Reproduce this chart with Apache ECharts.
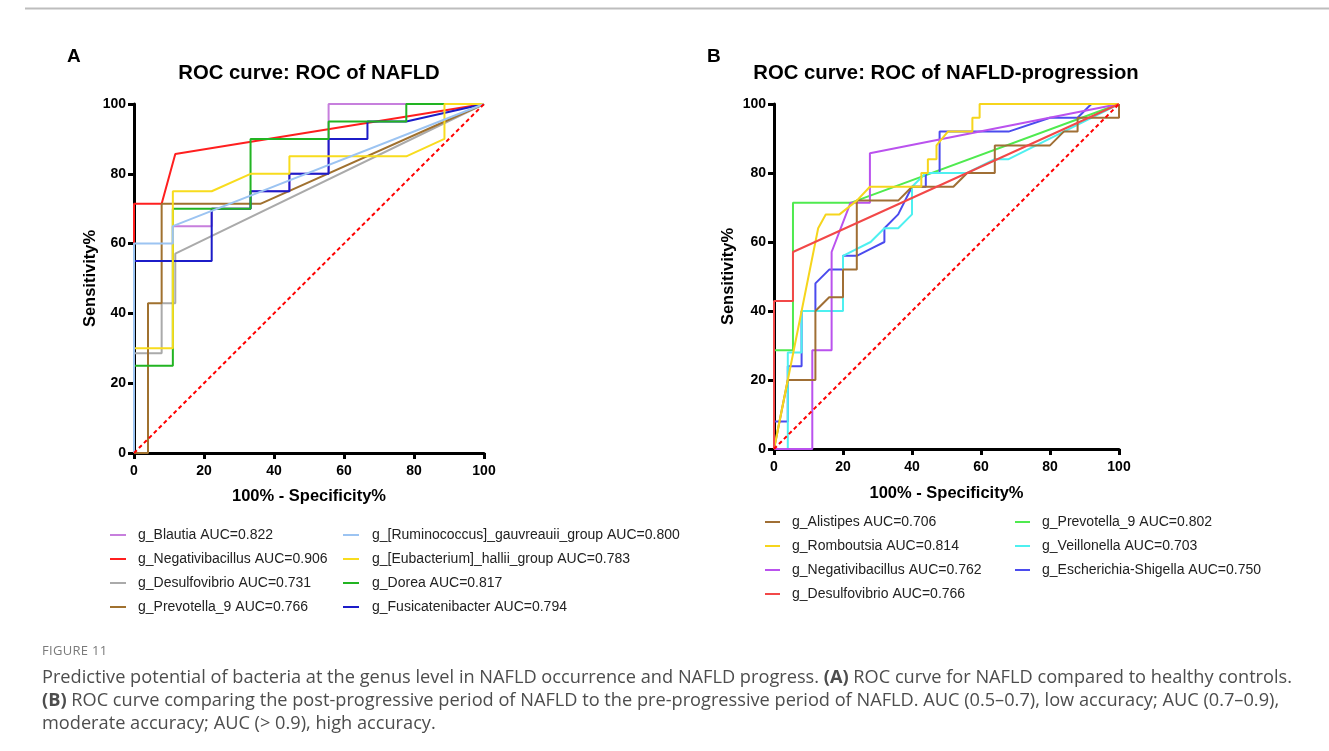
<!DOCTYPE html>
<html>
<head>
<meta charset="utf-8">
<script src="https://cdn.jsdelivr.net/npm/echarts@6/dist/echarts.min.js"></script>
<style>
  html, body { margin: 0; padding: 0; background: #fff; }
  #wrap { position: relative; width: 1329px; height: 751px; overflow: hidden; }
  #chart { position: absolute; left: 0; top: 0; width: 1329px; height: 751px; }
  .cap { position: absolute; left: 42px; font-family: 'Open Sans', 'Noto Sans', sans-serif; color: #4d4d4d; white-space: nowrap; }
  #figlabel { top: 641px; font-size: 13px; color: #7a7a7a; letter-spacing: 0.3px; }
</style>
</head>
<body>
<div id="wrap">
  <div id="chart"></div>
  <div class="cap" id="figlabel">FIGURE 11</div>
  <div class="cap capline" id="cap1" style="top:664px">Predictive potential of bacteria at the genus level in NAFLD occurrence and NAFLD progress. <b>(A)</b> ROC curve for NAFLD compared to healthy controls.</div>
  <div class="cap capline" id="cap2" style="top:687px"><b>(B)</b> ROC curve comparing the post-progressive period of NAFLD to the pre-progressive period of NAFLD. AUC (0.5–0.7), low accuracy; AUC (0.7–0.9),</div>
  <div class="cap capline" id="cap3" style="top:710px">moderate accuracy; AUC (&gt; 0.9), high accuracy.</div>
</div>
<script>
// ---------- Panel A data: [100% - Specificity%, Sensitivity%] ----------
const A_names = [
  'g_Blautia AUC=0.822', 'g_Negativibacillus AUC=0.906', 'g_Desulfovibrio AUC=0.731', 'g_Prevotella_9 AUC=0.766',
  'g_[Ruminococcus]_gauvreauii_group AUC=0.800', 'g_[Eubacterium]_hallii_group AUC=0.783', 'g_Dorea AUC=0.817', 'g_Fusicatenibacter AUC=0.794'
];
const A_Blautia = [[0,0],[0,55],[11.1,55],[11.1,65],[22.2,65],[22.2,70],[33.3,70],[33.3,75],[44.4,75],[44.4,80],[55.6,80],[55.6,100],[100,100]];
const A_Negativibacillus = [[0,0],[0,71.4],[7.9,71.4],[11.8,85.7],[100,100]];
const A_Desulfovibrio = [[0,0],[0,28.6],[7.9,28.6],[7.9,42.9],[11.8,42.9],[11.8,57.1],[100,100]];
const A_Prevotella9 = [[0,0],[4,0],[4,42.9],[7.9,42.9],[7.9,71.4],[36.1,71.4],[100,100]];
const A_Ruminococcus = [[0,0],[0,60],[11.1,60],[11.1,65],[100,100]];
const A_Eubacterium = [[0,0],[0,30],[11.1,30],[11.1,75],[22.2,75],[33.3,80],[44.4,80],[44.4,85],[77.8,85],[88.7,90],[88.7,100],[100,100]];
const A_Dorea = [[0,0],[0,25],[11.1,25],[11.1,70],[33.3,70],[33.3,90],[55.6,90],[55.6,95],[77.8,95],[77.8,100],[100,100]];
const A_Fusicatenibacter = [[0,0],[0,55],[22.2,55],[22.2,70],[33.3,70],[33.3,75],[44.4,75],[44.4,80],[55.6,80],[55.6,90],[66.7,90],[66.7,95],[77.8,95],[100,100]];
const A_colors = ['#C77FDD', '#FF1F1F', '#AAAAAA', '#A0712F', '#9CC4F2', '#F8DC1E', '#22B422', '#1C1CC8'];

// ---------- Panel B data ----------
const B_names = [
  'g_Alistipes AUC=0.706', 'g_Romboutsia AUC=0.814', 'g_Negativibacillus AUC=0.762', 'g_Desulfovibrio AUC=0.766',
  'g_Prevotella_9 AUC=0.802', 'g_Veillonella AUC=0.703', 'g_Escherichia-Shigella AUC=0.750'
];
const B_Alistipes = [[0,0],[4,20],[12,20],[12,40],[16,44],[20,44],[20,52],[24,52],[24,72],[36,72],[40,76],[52,76],[56,80],[64,80],[64,88],[80,88],[84,92],[88,92],[88,96],[100,96],[100,100]];
const B_Romboutsia = [[0,0],[12.8,64],[15,68],[19,68],[24,72],[27.8,76],[42.7,76],[42.7,80],[44.6,80],[44.6,84],[47.1,84],[47.1,88],[50.4,92],[57.5,92],[57.5,96],[59.6,96],[59.6,100],[100,100]];
const B_Negativibacillus = [[0,0],[11.1,0],[11.1,28.6],[16.7,28.6],[16.7,57.1],[22.2,71.4],[27.8,71.4],[27.8,85.7],[100,100]];
const B_Desulfovibrio = [[0,0],[0,42.9],[5.5,42.9],[5.5,57.1],[100,100]];
const B_Prevotella9 = [[0,0],[0,28.6],[5.5,28.6],[5.5,71.4],[22.4,71.4],[100,100]];
const B_Veillonella = [[0,0],[4,0],[4,28],[8,28],[8,40],[20,40],[20,56],[28,60],[32,64],[36,64],[40,68],[40,76],[44,80],[56,80],[64,84],[68,84],[76,88],[84,92],[92,96],[100,100]];
const B_Escherichia = [[0,0],[0,8],[4,8],[4,24],[8,24],[8,40],[12,40],[12,48],[16,52],[20,52],[20,56],[24,56],[28,58],[32,60],[32,64],[36,68],[40,76],[44,76],[44,80],[48,80],[48,92],[68,92],[80,96],[88,96],[92,100],[100,100]];
const B_colors = ['#A06F35', '#F6D51C', '#BA52EE', '#F24848', '#4FEA4F', '#4EF0F0', '#4B4BEE'];

const chance = [[0,0],[100,100]];
const ticks = [0, 20, 40, 60, 80, 100];

// drawing order (last on top)
const A_data = [A_Blautia, A_Negativibacillus, A_Desulfovibrio, A_Prevotella9, A_Ruminococcus, A_Eubacterium, A_Dorea, A_Fusicatenibacter];
const A_order = [0, 1, 2, 3, 7, 6, 5, 4];
const B_data = [B_Alistipes, B_Romboutsia, B_Negativibacillus, B_Desulfovibrio, B_Prevotella9, B_Veillonella, B_Escherichia];
const B_order = [4, 6, 5, 2, 0, 1, 3];

const FONT = "'Liberation Sans', Arial, sans-serif";

function axisCommon(extra, labelMargin) {
  return Object.assign({
    type: 'value', min: ticks[0], max: ticks[ticks.length - 1], interval: ticks[1] - ticks[0],
    axisLine: { show: true, onZero: false, lineStyle: { color: '#000', width: 3 } },
    axisTick: { show: true, length: 6, lineStyle: { color: '#000', width: 3 } },
    splitLine: { show: false },
    axisLabel: { color: '#000', fontWeight: 'bold', fontSize: 14, fontFamily: FONT, margin: labelMargin },
    nameLocation: 'middle',
    nameTextStyle: { color: '#000', fontWeight: 'bold', fontSize: 16.5, fontFamily: FONT }
  }, extra);
}

const series = [];
A_order.forEach(function (i) {
  series.push({ name: A_names[i], type: 'line', xAxisIndex: 0, yAxisIndex: 0, data: A_data[i],
    symbol: 'none', showSymbol: false, lineStyle: { width: 2, color: A_colors[i] }, itemStyle: { color: A_colors[i] },
    silent: true, animation: false });
});
series.push({ name: 'chanceA', type: 'line', xAxisIndex: 0, yAxisIndex: 0, data: chance, symbol: 'none',
  lineStyle: { width: 2, color: '#FF0000', type: [4, 3] }, silent: true, animation: false, z: 3 });
B_order.forEach(function (i) {
  series.push({ name: B_names[i], type: 'line', xAxisIndex: 1, yAxisIndex: 1, data: B_data[i],
    symbol: 'none', showSymbol: false, lineStyle: { width: 2, color: B_colors[i] }, itemStyle: { color: B_colors[i] },
    silent: true, animation: false });
});
series.push({ name: 'chanceB', type: 'line', xAxisIndex: 1, yAxisIndex: 1, data: chance, symbol: 'none',
  lineStyle: { width: 2, color: '#FF0000', type: [4, 3] }, silent: true, animation: false, z: 3 });

function legend(names, left, top, fs, pad, iw) {
  return {
    data: names, left: left, top: top, orient: 'vertical', icon: 'rect', itemWidth: iw, itemHeight: 2,
    itemGap: 10, selectedMode: false, padding: 0,
    textStyle: { fontSize: fs, fontFamily: FONT, color: '#222', lineHeight: 14, padding: [0, 0, 0, pad] }
  };
}

const option = {
  animation: false,
  backgroundColor: '#fff',
  grid: [
    { left: 134, top: 104, width: 350, height: 349, containLabel: false },
    { left: 774, top: 104, width: 345, height: 345, containLabel: false }
  ],
  xAxis: [
    axisCommon({ gridIndex: 0, name: '100% - Specificity%', nameGap: 35 }, 11),
    axisCommon({ gridIndex: 1, name: '100% - Specificity%', nameGap: 36 }, 11)
  ],
  yAxis: [
    axisCommon({ gridIndex: 0, name: 'Sensitivity%', nameGap: 35 }, 8),
    axisCommon({ gridIndex: 1, name: 'Sensitivity%', nameGap: 37 }, 8)
  ],
  legend: [
    legend(A_names.slice(0, 4), 110, 528, 14, 7, 16),
    legend(A_names.slice(4, 8), 343, 528, 14, 8, 16),
    legend(B_names.slice(0, 4), 765, 515, 14, 7, 15),
    legend(B_names.slice(4, 7), 1015, 515, 14, 7, 15)
  ],
  graphic: [
    { type: 'line', shape: { x1: 25, y1: 8.5, x2: 1329, y2: 8.5 }, style: { stroke: '#bdbdbd', lineWidth: 2 }, silent: true },
    { type: 'text', x: 67, y: 57, style: { text: 'A', font: "bold 19px 'Liberation Sans', Arial", fill: '#000', textVerticalAlign: 'middle' } },
    { type: 'text', x: 707, y: 57, style: { text: 'B', font: "bold 19px 'Liberation Sans', Arial", fill: '#000', textVerticalAlign: 'middle' } },
    { type: 'text', x: 309, y: 73, style: { text: 'ROC curve: ROC of NAFLD', font: "bold 20.3px 'Liberation Sans', Arial", fill: '#000', textAlign: 'center', textVerticalAlign: 'middle' } },
    { type: 'text', x: 946, y: 73, style: { text: 'ROC curve: ROC of NAFLD-progression', font: "bold 20.3px 'Liberation Sans', Arial", fill: '#000', textAlign: 'center', textVerticalAlign: 'middle' } }
  ],
  series: series
};

const chart = echarts.init(document.getElementById('chart'), null, { renderer: 'canvas' });
chart.setOption(option);

// fit caption font size so that line 1 spans the same width as in the figure
(function () {
  const el = document.getElementById('cap1');
  const lines = document.querySelectorAll('.capline');
  lines.forEach(function (l) { l.style.fontSize = '16px'; });
  const w = el.getBoundingClientRect().width;
  const fs = 16 * 1250 / w;
  lines.forEach(function (l) { l.style.fontSize = fs.toFixed(2) + 'px'; });
})();
</script>
</body>
</html>
